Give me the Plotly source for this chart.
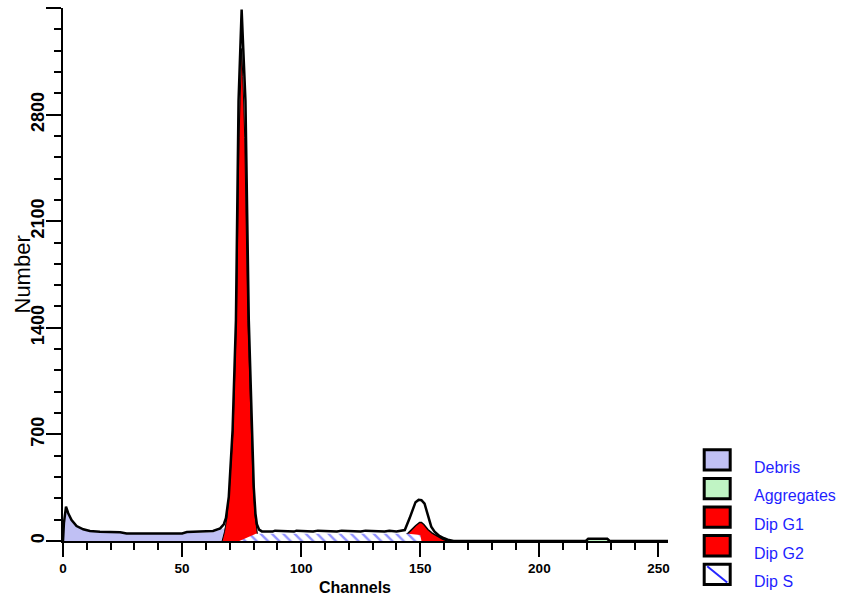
import plotly.graph_objects as go

# ---------------- data ----------------
total_ch = [0, 0.4, 1.26, 2.2, 3.6, 5.7, 8.5, 11.3, 15.5, 24, 26.7, 50, 52, 63, 66, 67.5, 68.4,
            69.6, 71.2, 72.6, 73.7, 74.5, 75.0, 75.5, 76.6, 78.0, 79.4, 80.1, 80.8, 81.4, 82.3,
            83.5, 88, 89, 97, 98, 105, 107, 115, 117, 125, 127, 135, 137, 140, 143.5, 145.5, 147,
            148, 149.3, 150.5, 151.8, 153.2, 154.6, 156, 158, 160, 162, 164, 219.5, 220.5,
            228.5, 229.5, 254]
total_val = [0, 120, 225, 182, 138, 98, 77, 66, 61, 58, 50, 50, 59, 66, 83, 110, 150,
             290, 728, 1450, 2893, 3300, 3490, 3300, 2893, 1450, 728, 350, 180, 110, 75,
             63, 62, 68, 62, 68, 62, 68, 62, 68, 62, 68, 62, 67, 62, 72, 149, 210,
             255, 270, 268, 245, 160, 94, 61, 33, 18, 6, 0, 0, 14,
             14, 0, 0]

debris_ch = [0, 0.3, 1.2, 2.2, 3.6, 5.7, 8.5, 11.3, 15.5, 24, 26.7, 50, 52, 63, 66, 68, 69.5, 70]
debris_val = [0, 60, 215, 175, 130, 92, 72, 60, 55, 52, 46, 46, 53, 58, 72, 85, 60, 0]

agg_ch = [219.5, 220.5, 228.5, 229.5]
agg_val = [0, 14, 14, 0]

g1_ch = [66.8, 67.8, 68.8, 69.8, 71.4, 72.8, 73.9, 74.5, 75.0, 75.5, 76.3, 77.6, 79.0, 79.8,
         80.6, 81.3, 82]
g1_val = [0, 60, 150, 330, 728, 1450, 2650, 3050, 3234, 3050, 2650, 1450, 728, 380,
          170, 70, 0]

g2_ch = [140, 142, 144.8, 146.5, 148, 149.7, 150.5, 151.5, 153.2, 155, 157.4, 159.5, 161.5]
g2_val = [0, 15, 50, 78, 100, 122, 122, 108, 75, 52, 28, 11, 0]

s_ch = [74, 81, 145, 149, 150, 150.5]
s_val = [0, 48, 48, 45, 40, 0]

legend_labels = ["Debris", "Aggregates", "Dip G1", "Dip G2", "Dip S"]
legend_fill = ["#c0c0f4", "#c0f4c4", "#ff0000", "#ff0000", "#ffffff"]

# ---------------- figure ----------------
L, R, T, B = 63, 668, 8, 541
W, H = 842, 600


def px(p):
    return (p - L) / (R - L)


def py(p):
    return (B - p) / (B - T)


fig = go.Figure()
fig.add_trace(go.Scatter(x=debris_ch, y=debris_val, mode="lines", fill="tozeroy",
                         fillcolor=legend_fill[0], line=dict(width=0), hoverinfo="skip"))
fig.add_trace(go.Scatter(x=agg_ch, y=agg_val, mode="lines", fill="tozeroy",
                         fillcolor=legend_fill[1], line=dict(width=1.5, color="black")))
fig.add_trace(go.Scatter(x=g1_ch, y=g1_val, mode="lines", fill="tozeroy",
                         fillcolor=legend_fill[2], line=dict(width=1, color="black")))
fig.add_trace(go.Scatter(x=g2_ch, y=g2_val, mode="lines", fill="tozeroy",
                         fillcolor=legend_fill[3], line=dict(width=1.5, color="black")))
fig.add_trace(go.Scatter(x=s_ch, y=s_val, mode="lines", fill="tozeroy",
                         fillcolor="white", line=dict(width=0),
                         fillpattern=dict(shape="\\", fgcolor="#2626ff", bgcolor="white",
                                          size=8, solidity=0.3)))
fig.add_trace(go.Scatter(x=total_ch, y=total_val, mode="lines",
                         line=dict(width=2.5, color="black")))

tickfont_x = dict(family="Liberation Sans, Arial", size=13.5, color="black", weight="bold")
tickfont_y = dict(family="Liberation Sans, Arial", size=18, color="black", weight="bold")

fig.update_xaxes(range=[0, 254], showgrid=False, zeroline=False, showline=True,
                 linecolor="black", linewidth=2, ticks="outside", tick0=0, dtick=50,
                 ticklen=14, tickwidth=2, tickcolor="black", tickfont=tickfont_x,
                 minor=dict(ticks="outside", dtick=10, ticklen=7, tickwidth=2,
                            tickcolor="black"))
fig.update_yaxes(range=[0, 3500], showgrid=False, zeroline=False, showline=True,
                 linecolor="black", linewidth=2, ticks="outside", tick0=0, dtick=700,
                 ticklen=15, tickwidth=2, tickcolor="black", tickfont=tickfont_y,
                 tickangle=-90, ticklabelstandoff=-5,
                 minor=dict(ticks="outside", dtick=140, ticklen=7, tickwidth=2,
                            tickcolor="black"))

annotations = [
    dict(text="Number", x=px(22), y=py(274.5), xref="paper", yref="paper",
         textangle=-90, showarrow=False, xanchor="center", yanchor="middle",
         font=dict(family="Liberation Sans, Arial", size=22, color="black")),
    dict(text="Channels", x=px(355), y=py(587), xref="paper", yref="paper",
         showarrow=False, xanchor="center", yanchor="middle",
         font=dict(family="Liberation Sans, Arial", size=16, color="black",
                   weight="bold")),
]
shapes = []
for i, (lab, col) in enumerate(zip(legend_labels, legend_fill)):
    top = 448.3 + i * 28.6
    x0, x1 = 704.2, 730.2
    y0, y1 = top + 1.5, top + 21.8
    shapes.append(dict(type="rect", xref="paper", yref="paper",
                       x0=px(x0), x1=px(x1), y0=py(y1), y1=py(y0),
                       fillcolor=col, line=dict(color="black", width=3)))
    if lab == "Dip S":
        shapes.append(dict(type="line", xref="paper", yref="paper",
                           x0=px(x0 + 3), y0=py(y0 + 2), x1=px(x1 - 3), y1=py(y1 - 2),
                           line=dict(color="#2626ff", width=2)))
    annotations.append(dict(text=lab, x=px(752), y=py(top + 19), xref="paper",
                            yref="paper", showarrow=False, xanchor="left",
                            yanchor="middle",
                            font=dict(family="Liberation Sans, Arial", size=16,
                                      color="#1f1fff")))

fig.update_layout(width=W, height=H, margin=dict(l=L, r=W - R, t=T, b=H - B),
                  plot_bgcolor="white", paper_bgcolor="white", showlegend=False,
                  annotations=annotations, shapes=shapes)

fig.write_html("out.html")
